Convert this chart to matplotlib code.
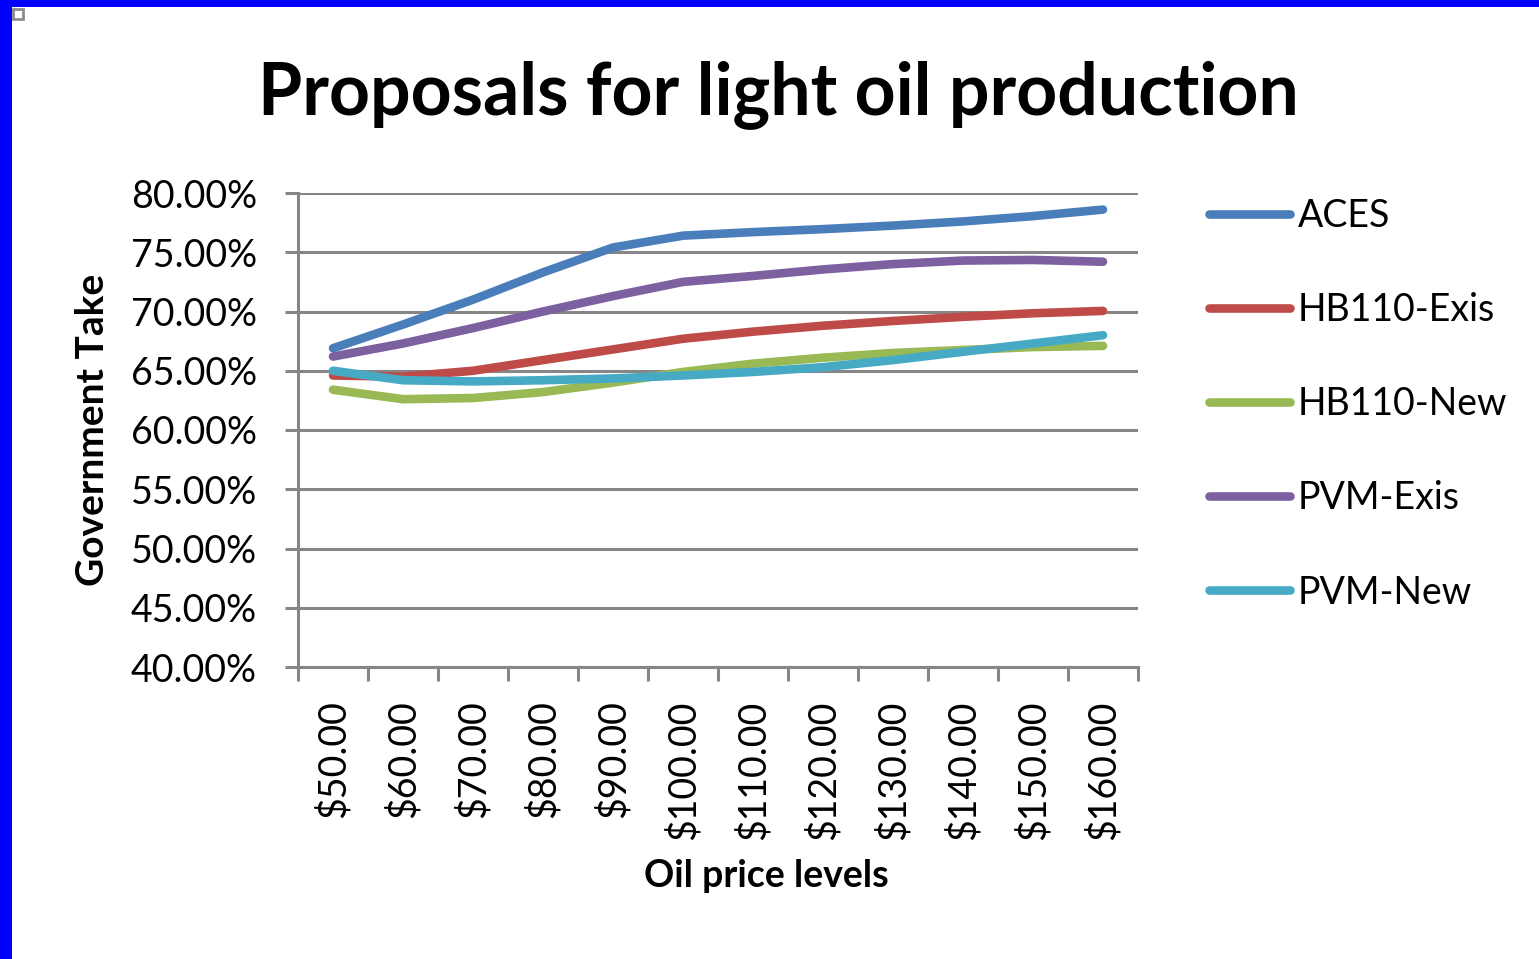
import matplotlib
matplotlib.use("Agg")
import matplotlib.pyplot as plt
from matplotlib.patches import Rectangle
from matplotlib.ticker import FixedLocator, PercentFormatter

plt.rcParams['font.family'] = ['Lato', 'DejaVu Sans']

prices = ["$50.00", "$60.00", "$70.00", "$80.00", "$90.00", "$100.00",
          "$110.00", "$120.00", "$130.00", "$140.00", "$150.00", "$160.00"]

aces = [66.9, 68.9, 71.0, 73.3, 75.4, 76.4, 76.7, 76.95, 77.25, 77.6, 78.05, 78.6]
hb110_exis = [64.6, 64.5, 65.0, 65.9, 66.8, 67.7, 68.3, 68.8, 69.2, 69.55, 69.85, 70.05]
hb110_new = [63.4, 62.6, 62.7, 63.2, 64.0, 64.9, 65.6, 66.1, 66.5, 66.75, 67.0, 67.1]
pvm_exis = [66.2, 67.3, 68.6, 70.0, 71.3, 72.5, 73.0, 73.55, 74.0, 74.3, 74.35, 74.2]
pvm_new = [65.0, 64.2, 64.1, 64.2, 64.35, 64.6, 64.9, 65.3, 65.9, 66.6, 67.3, 68.0]

series = [
    ("ACES", aces, "#4A7EBB"),
    ("HB110-Exis", hb110_exis, "#BE4B48"),
    ("HB110-New", hb110_new, "#98B954"),
    ("PVM-Exis", pvm_exis, "#7D60A0"),
    ("PVM-New", pvm_new, "#46AAC5"),
]

W, H = 1539, 959
fig = plt.figure(figsize=(W / 100, H / 100), dpi=100)
fig.patch.set_facecolor("white")

# slide frame: blue edges and a small handle in the corner
fig.add_artist(Rectangle((0, 1 - 7 / H), 1, 7 / H, transform=fig.transFigure,
                         facecolor="#0000FF", edgecolor="none"))
fig.add_artist(Rectangle((0, 0), 12 / W, 1, transform=fig.transFigure,
                         facecolor="#0000FF", edgecolor="none"))
fig.add_artist(Rectangle((13 / W, 1 - 19 / H), 10 / W, 10 / H, transform=fig.transFigure,
                         facecolor="white", edgecolor="#8C8C8C", linewidth=2))

ax = fig.add_axes([298 / W, 1 - 667 / H, 840 / W, 474 / H])
x = list(range(len(prices)))
for name, vals, color in series:
    ax.plot(x, vals, color=color, linewidth=6.2, solid_capstyle="round",
            solid_joinstyle="round", label=name, zorder=3)

ax.set_xlim(-0.5, len(prices) - 0.5)
ax.set_ylim(40, 80)
ax.yaxis.set_major_locator(FixedLocator([40, 45, 50, 55, 60, 65, 70, 75, 80]))
ax.yaxis.set_major_formatter(PercentFormatter(decimals=2))
ax.grid(axis="y", color="#868686", linewidth=2.2, zorder=1)
ax.set_xticks(x)
ax.set_xticklabels(prices, rotation=90)
ax.set_xticks([i - 0.5 for i in range(len(prices) + 1)], minor=True)

for side in ("top", "right"):
    ax.spines[side].set_visible(False)
for side in ("left", "bottom"):
    ax.spines[side].set_color("#868686")
    ax.spines[side].set_linewidth(2.2)

ax.tick_params(axis="y", length=9.5, width=2.2, color="#868686", pad=20,
               labelsize=27)
ax.tick_params(axis="x", which="major", length=0, pad=24, labelsize=27)
ax.tick_params(axis="x", which="minor", length=10, width=2.2, color="#868686")

ax.set_ylabel("Government Take", fontsize=28, fontweight="bold")
ax.yaxis.set_label_coords((93 - 298) / 840, (667 - 430) / 474)
ax.set_xlabel("Oil price levels", fontsize=27, fontweight="bold")
ax.xaxis.set_label_coords((766 - 298) / 840, (667 - 876) / 474)
ax.xaxis.label.set_va("center")
ax.yaxis.label.set_va("center")

fig.text(778 / W, 1 - 95 / H, "Proposals for light oil production",
         fontsize=51.5, fontweight="bold", ha="center", va="center")

leg = fig.legend(loc="upper left", bbox_to_anchor=(1209 / W, 1 - 198 / H),
                 frameon=False, fontsize=27, handlelength=2.17, borderpad=0,
                 borderaxespad=0, handletextpad=0.2, labelspacing=1.55)

fig.savefig("out.png", dpi=100, facecolor="white")
